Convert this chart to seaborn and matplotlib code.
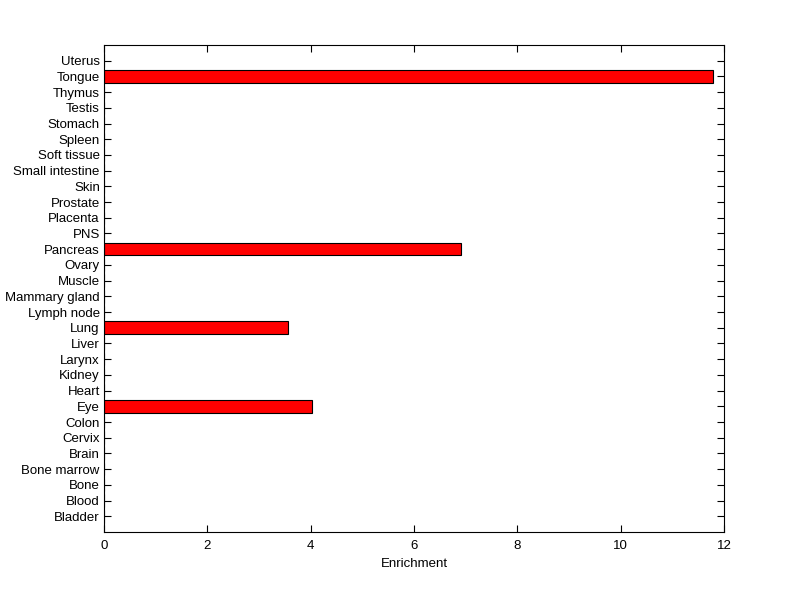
import matplotlib
matplotlib.use('Agg')
import matplotlib.pyplot as plt
import seaborn as sns
import pandas as pd

# tissues, top to bottom as shown
tissues = ['Uterus', 'Tongue', 'Thymus', 'Testis', 'Stomach', 'Spleen', 'Soft tissue',
           'Small intestine', 'Skin', 'Prostate', 'Placenta', 'PNS', 'Pancreas', 'Ovary',
           'Muscle', 'Mammary gland', 'Lymph node', 'Lung', 'Liver', 'Larynx', 'Kidney',
           'Heart', 'Eye', 'Colon', 'Cervix', 'Brain', 'Bone marrow', 'Bone', 'Blood', 'Bladder']
enrichment = [0, 11.78, 0, 0, 0, 0, 0,
              0, 0, 0, 0, 0, 6.9, 0,
              0, 0, 0, 3.57, 0, 0, 0,
              0, 4.03, 0, 0, 0, 0, 0, 0, 0]
x_ticks = [0, 2, 4, 6, 8, 10, 12]

df = pd.DataFrame({'tissue': tissues, 'enrichment': enrichment})

sns.set_style('white')
plt.rcParams['font.family'] = ['Liberation Sans', 'DejaVu Sans']
plt.rcParams['text.color'] = 'black'

fig = plt.figure(figsize=(8, 5.99), dpi=100)
ax = fig.add_axes([0.13, 0.1119, 0.775, 0.8130])

sns.barplot(data=df, x='enrichment', y='tissue', order=tissues, orient='h',
            color='red', saturation=1, width=0.8, edgecolor='black', linewidth=0.8, ax=ax)

ax.set_xlim(0, 12)
ax.set_xticks(x_ticks)
ax.set_ylim(len(tissues), -1)
ax.set_xlabel('Enrichment', fontsize=9.5, color='black', labelpad=4)
ax.set_ylabel('')
ax.tick_params(axis='both', direction='in', length=5, width=0.8, labelsize=9.5,
               colors='black', top=True, right=True, left=True, bottom=True, pad=3)
ax.tick_params(axis='x', pad=6)
for s in ax.spines.values():
    s.set_visible(True)
    s.set_color('black')
    s.set_linewidth(0.8)

fig.savefig('out.png', dpi=100)
